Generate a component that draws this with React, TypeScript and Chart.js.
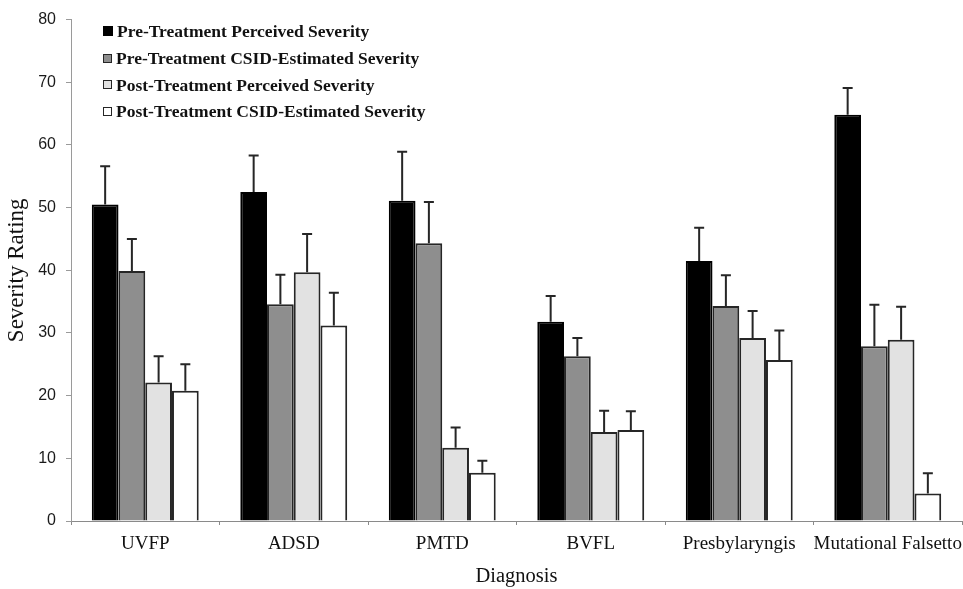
import React, { useEffect, useRef } from "react";
import { Chart, registerables } from "chart.js";

Chart.register(...registerables);

const categories = ["UVFP", "ADSD", "PMTD", "BVFL", "Presbylaryngis", "Mutational Falsetto"];
const seriesNames = [
  "Pre-Treatment Perceived Severity",
  "Pre-Treatment CSID-Estimated Severity",
  "Post-Treatment Perceived Severity",
  "Post-Treatment CSID-Estimated Severity",
];
const prePerceived = [50.5, 52.5, 51.1, 31.8, 41.5, 64.8];
const preCSID = [39.9, 34.6, 44.3, 26.3, 34.3, 27.9];
const postPerceived = [22.1, 39.7, 11.7, 14.2, 29.2, 28.9];
const postCSID = [20.8, 31.2, 7.7, 14.5, 25.7, 4.4];
const prePerceivedErr = [6.1, 5.8, 7.8, 4.1, 5.3, 4.3];
const preCSIDErr = [5.1, 4.7, 6.6, 2.9, 4.9, 6.6];
const postPerceivedErr = [4.2, 6.1, 3.2, 3.4, 4.3, 5.3];
const postCSIDErr = [4.2, 5.2, 1.9, 3.0, 4.7, 3.2];
const yTicks = [0, 10, 20, 30, 40, 50, 60, 70, 80];

const fills = ["#000000", "#8e8e8e", "#e2e2e2", "#ffffff"];
const borders = ["#000000", "#262626", "#262626", "#262626"];

const errorBarPlugin = {
  id: "errorBars",
  afterDatasetsDraw(chart: any) {
    const ctx = chart.ctx;
    const yScale = chart.scales.y;
    ctx.save();
    ctx.strokeStyle = "#262626";
    ctx.lineWidth = 2;
    chart.data.datasets.forEach((ds: any, i: number) => {
      const meta = chart.getDatasetMeta(i);
      meta.data.forEach((el: any, j: number) => {
        const v = ds.data[j];
        const e = ds.errors[j];
        const yTop = yScale.getPixelForValue(v + e);
        const x = el.x;
        ctx.beginPath();
        ctx.moveTo(x, el.y);
        ctx.lineTo(x, yTop);
        ctx.moveTo(x - 5, yTop);
        ctx.lineTo(x + 5, yTop);
        ctx.stroke();
      });
    });
    ctx.restore();
  },
};

export default function App() {
  const ref = useRef<HTMLCanvasElement | null>(null);
  useEffect(() => {
    document.body.style.margin = "0";
    const values = [prePerceived, preCSID, postPerceived, postCSID];
    const errs = [prePerceivedErr, preCSIDErr, postPerceivedErr, postCSIDErr];
    const chart = new Chart(ref.current as HTMLCanvasElement, {
      type: "bar",
      data: {
        labels: categories,
        datasets: seriesNames.map((name, i) => ({
          label: name,
          data: values[i],
          errors: errs[i],
          backgroundColor: fills[i],
          borderColor: borders[i],
          borderWidth: 2,
          borderSkipped: "bottom",
          categoryPercentage: 0.72,
          barPercentage: 1.0,
        })) as any,
      },
      options: {
        animation: false,
        responsive: false,
        layout: { padding: { top: 14, right: 1, left: 0, bottom: 0 } },
        plugins: { legend: { display: false }, tooltip: { enabled: false } },
        scales: {
          x: {
            grid: { display: true, drawOnChartArea: false, drawTicks: true, tickLength: 4, color: "#8a8a8a", offset: true },
            border: { display: true, color: "#8a8a8a", width: 1 },
            ticks: {
              color: "#111",
              padding: 8,
              maxRotation: 0,
              autoSkip: false,
              font: { family: "'Liberation Serif', 'Times New Roman', serif", size: 19 },
            },
            title: {
              display: true,
              text: "Diagnosis",
              color: "#111",
              padding: { top: 0, bottom: 0 },
              font: { family: "'Liberation Serif', 'Times New Roman', serif", size: 20.5 },
            },
            afterFit(scale: any) {
              scale.height = 68;
              scale.paddingLeft = 0;
              scale.paddingRight = 0;
            },
          },
          y: {
            min: 0,
            max: 80,
            grid: { display: true, drawOnChartArea: false, drawTicks: true, tickLength: 5, color: "#9a9a9a" },
            border: { display: true, color: "#9a9a9a", width: 1 },
            afterBuildTicks(scale: any) {
              scale.ticks = yTicks.map((v) => ({ value: v }));
            },
            ticks: {
              color: "#1a1a1a",
              padding: 10,
              font: { family: "'Liberation Sans', Arial, sans-serif", size: 16 },
            },
            title: {
              display: true,
              text: "Severity Rating",
              color: "#111",
              padding: { top: 3, bottom: 0 },
              font: { family: "'Liberation Serif', 'Times New Roman', serif", size: 23 },
            },
            afterFit(scale: any) {
              scale.width = 71;
            },
          },
        },
      },
      plugins: [errorBarPlugin],
    });
    return () => chart.destroy();
  }, []);

  const legendStyle: React.CSSProperties = {
    position: "absolute",
    left: 103,
    top: 18,
    fontFamily: "'Liberation Serif', 'Times New Roman', serif",
    fontWeight: "bold",
    fontSize: 17.5,
    lineHeight: "26.8px",
    color: "#111",
    whiteSpace: "nowrap",
  };

  return (
    <div style={{ position: "relative", width: 963, height: 589, background: "#fff" }}>
      <canvas ref={ref} width={963} height={589} />
      <div style={legendStyle}>
        {seriesNames.map((name, i) => (
          <div key={name} style={{ display: "flex", alignItems: "center" }}>
            <span
              style={{
                display: "inline-block",
                width: i === 0 ? 10 : 7,
                height: i === 0 ? 10 : 7,
                background: fills[i],
                border: i === 0 ? "none" : "1.5px solid #262626",
                marginRight: 4,
              }}
            />
            <span>{name}</span>
          </div>
        ))}
      </div>
    </div>
  );
}
